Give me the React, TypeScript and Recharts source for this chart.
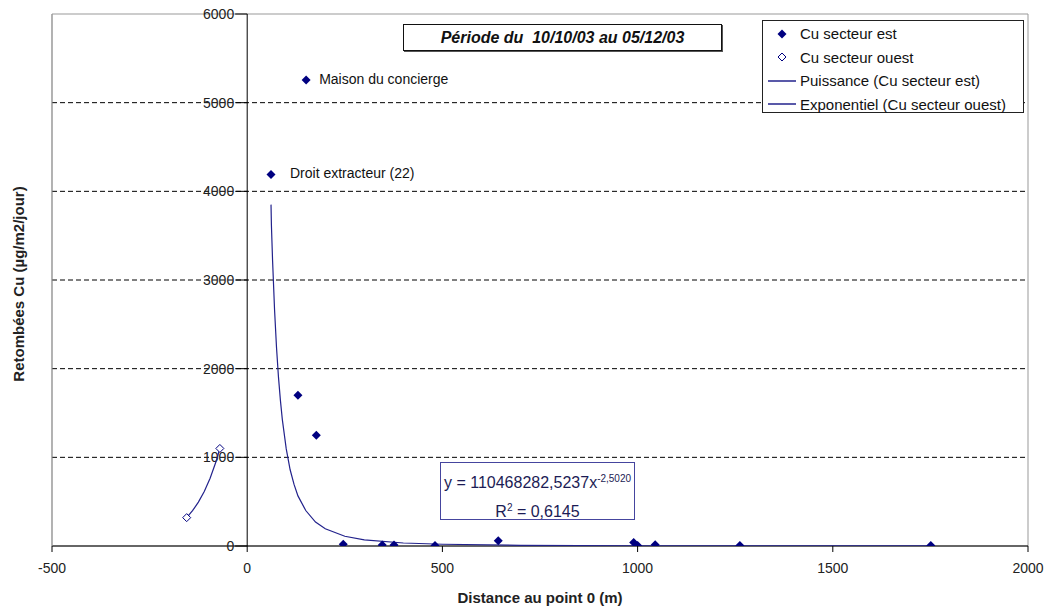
import React from 'react';
import {
  ScatterChart,
  Scatter,
  XAxis,
  YAxis,
  ZAxis,
  ReferenceLine,
  ReferenceArea,
  ReferenceDot,
  Legend,
  LabelList,
} from 'recharts';

const FONT = '"Liberation Sans", Arial, sans-serif';
const NAVY = '#000080';
const TREND = '#22228c';

const xTicks = [-500, 0, 500, 1000, 1500, 2000];
const yTicks = [0, 1000, 2000, 3000, 4000, 5000, 6000];
const gridLevels = [1000, 2000, 3000, 4000, 5000];

// Cu secteur est (filled diamonds)
const cuEst = [
  { x: 61, y: 4190, note: 'Droit extracteur (22)' },
  { x: 151, y: 5255, note: 'Maison du concierge' },
  { x: 130, y: 1700 },
  { x: 177, y: 1250 },
  { x: 246, y: 20 },
  { x: 346, y: 10 },
  { x: 376, y: 10 },
  { x: 481, y: 5 },
  { x: 643, y: 60 },
  { x: 990, y: 40 },
  { x: 1000, y: 5 },
  { x: 1045, y: 15 },
  { x: 1262, y: 5 },
  { x: 1751, y: 5 },
];

// Cu secteur ouest (open diamonds)
const cuOuest = [
  { x: -155, y: 320 },
  { x: -70, y: 1100 },
];

// Puissance (Cu secteur est)
const puissance = [
  { x: 61, y: 3850 },
  { x: 62, y: 3620 },
  { x: 65, y: 3220 },
  { x: 70, y: 2670 },
  { x: 75, y: 2245 },
  { x: 80, y: 1910 },
  { x: 85, y: 1645 },
  { x: 90, y: 1425 },
  { x: 100, y: 1095 },
  { x: 110, y: 860 },
  { x: 120, y: 695 },
  { x: 130, y: 565 },
  { x: 150, y: 400 },
  { x: 175, y: 270 },
  { x: 200, y: 195 },
  { x: 250, y: 110 },
  { x: 300, y: 70 },
  { x: 400, y: 34 },
  { x: 500, y: 20 },
  { x: 700, y: 8 },
  { x: 1000, y: 3 },
  { x: 1400, y: 1.5 },
  { x: 1751, y: 1 },
];

// Exponentiel (Cu secteur ouest)
const exponentiel = [
  { x: -155, y: 320 },
  { x: -140, y: 398 },
  { x: -125, y: 495 },
  { x: -110, y: 615 },
  { x: -95, y: 765 },
  { x: -80, y: 950 },
  { x: -70, y: 1100 },
];

const noteOffset: Record<string, number> = {
  'Droit extracteur (22)': 19,
  'Maison du concierge': 13,
};

const diamondPath = (cx: number, cy: number, r: number) =>
  `M${cx},${cy - r}L${cx + r},${cy}L${cx},${cy + r}L${cx - r},${cy}Z`;

const FilledDiamond = (p: any) => <path d={diamondPath(p.cx, p.cy, 4.5)} fill={NAVY} />;
const OpenDiamond = (p: any) => (
  <path d={diamondPath(p.cx, p.cy, 4)} fill="#fff" stroke={NAVY} strokeWidth={1} />
);
const NoDot = () => <g />;

const NoteLabel = (p: any) => {
  if (!p.value) return null;
  const cx = p.x + p.width / 2;
  const cy = p.y + p.height / 2;
  return (
    <text
      x={cx + (noteOffset[p.value] ?? 12)}
      y={cy - 1}
      dominantBaseline="central"
      fontSize={14}
      fill="#111"
      fontFamily={FONT}
    >
      {p.value}
    </text>
  );
};

const YTick = ({ cx, cy, value }: any) => (
  <g>
    <line x1={cx - 12} y1={cy} x2={cx} y2={cy} stroke="#000" />
    <text
      x={cx - 13}
      y={cy}
      textAnchor="end"
      dominantBaseline="central"
      fontSize={14}
      fill="#222"
      fontFamily={FONT}
    >
      {value}
    </text>
  </g>
);

const legendItems = [
  { name: 'Cu secteur est', kind: 'filled' },
  { name: 'Cu secteur ouest', kind: 'open' },
  { name: 'Puissance (Cu secteur est)', kind: 'line' },
  { name: 'Exponentiel (Cu secteur ouest)', kind: 'line' },
];

const LegendBox = () => (
  <div
    style={{
      width: 262,
      height: 93,
      border: '1px solid #222',
      background: '#fff',
      boxSizing: 'border-box',
      paddingTop: 1,
      fontFamily: FONT,
      fontSize: 15,
      color: '#111',
    }}
  >
    {legendItems.map((it) => (
      <div key={it.name} style={{ height: 23.5, display: 'flex', alignItems: 'center' }}>
        <svg width={37} height={14} style={{ marginLeft: 4 }}>
          {it.kind === 'filled' && <path d={diamondPath(15, 7, 4.5)} fill={NAVY} />}
          {it.kind === 'open' && (
            <path d={diamondPath(15, 7, 4)} fill="#fff" stroke={NAVY} strokeWidth={1} />
          )}
          {it.kind === 'line' && <line x1={1} y1={7} x2={29} y2={7} stroke={TREND} strokeWidth={1.5} />}
        </svg>
        <span style={{ marginLeft: -4, whiteSpace: 'nowrap' }}>{it.name}</span>
      </div>
    ))}
  </div>
);

const YTitle = (props: any) => {
  const vb = props.viewBox;
  const x = vb.x + 18;
  const y = vb.y + vb.height / 2 + 4;
  return (
    <text
      x={x}
      y={y}
      transform={`rotate(-90, ${x}, ${y})`}
      textAnchor="middle"
      dominantBaseline="central"
      fontSize={15}
      fontWeight="bold"
      fill="#222"
      fontFamily={FONT}
    >
      Retombées Cu (µg/m2/jour)
    </text>
  );
};

export default function App() {
  return (
    <div
      style={{
        position: 'absolute',
        left: 0,
        top: 0,
        width: 1053,
        height: 608,
        background: '#fff',
        fontFamily: FONT,
      }}
    >
      <ScatterChart width={1053} height={608} margin={{ top: 14, right: 25, bottom: 5, left: 0 }}>
        <XAxis
          type="number"
          dataKey="x"
          domain={[-500, 2000]}
          ticks={xTicks}
          allowDataOverflow
          axisLine={{ stroke: '#000' }}
          tickLine={{ stroke: '#000' }}
          tickSize={6}
          tickMargin={11}
          tick={{ fill: '#222', fontSize: 14, fontFamily: FONT }}
          height={57}
          label={{
            value: 'Distance au point 0 (m)',
            position: 'insideBottom',
            offset: 0,
            fontSize: 15,
            fontWeight: 'bold',
            fill: '#222',
            fontFamily: FONT,
          }}
        />
        <YAxis
          type="number"
          dataKey="y"
          domain={[0, 6000]}
          ticks={yTicks}
          allowDataOverflow
          width={52}
          tick={false}
          tickLine={false}
          axisLine={{ stroke: '#999' }}
          label={YTitle}
        />
        <ZAxis range={[64, 64]} />
        <ReferenceArea x1={-500} x2={2000} y1={0} y2={6000} fill="none" stroke="#999" />
        {gridLevels.map((v) => (
          <ReferenceLine key={v} y={v} stroke="#000" strokeDasharray="5 3" />
        ))}
        <ReferenceLine x={0} stroke="#000" />
        {yTicks.map((v) => (
          <ReferenceDot
            key={`t${v}`}
            x={0}
            y={v}
            r={0}
            shape={(p: any) => <YTick {...p} value={v} />}
          />
        ))}
        <Legend
          layout="vertical"
          align="center"
          verticalAlign="middle"
          wrapperStyle={{ top: 20, left: 762, width: 262 }}
          content={LegendBox}
        />
        <Scatter
          name="Puissance (Cu secteur est)"
          data={puissance}
          line={{ stroke: TREND, strokeWidth: 1.2 }}
          lineType="joint"
          shape={NoDot}
          isAnimationActive={false}
        />
        <Scatter
          name="Exponentiel (Cu secteur ouest)"
          data={exponentiel}
          line={{ stroke: TREND, strokeWidth: 1.2 }}
          lineType="joint"
          shape={NoDot}
          isAnimationActive={false}
        />
        <Scatter name="Cu secteur est" data={cuEst} shape={FilledDiamond} isAnimationActive={false}>
          <LabelList dataKey="note" content={NoteLabel} />
        </Scatter>
        <Scatter name="Cu secteur ouest" data={cuOuest} shape={OpenDiamond} isAnimationActive={false} />
      </ScatterChart>

      <div
        style={{
          position: 'absolute',
          left: 403,
          top: 24,
          width: 319,
          height: 27,
          boxSizing: 'border-box',
          border: '1px solid #111',
          boxShadow: '1px 1px 0 #555',
          background: '#fff',
          textAlign: 'center',
          lineHeight: '25px',
          fontSize: 16,
          fontWeight: 'bold',
          fontStyle: 'italic',
          color: '#111',
          whiteSpace: 'pre',
        }}
      >
        {'Période du  10/10/03 au 05/12/03'}
      </div>

      <div
        style={{
          position: 'absolute',
          left: 440,
          top: 462,
          width: 195,
          height: 58,
          boxSizing: 'border-box',
          border: '1.5px solid #45459e',
          background: '#fff',
          textAlign: 'center',
          fontSize: 16,
          color: '#1c1c55',
          paddingTop: 3,
          lineHeight: '25px',
          whiteSpace: 'nowrap',
        }}
      >
        <div>
          y = 110468282,5237x<sup style={{ fontSize: 10, verticalAlign: 6 }}>-2,5020</sup>
        </div>
        <div>
          R<sup style={{ fontSize: 10, verticalAlign: 6 }}>2</sup> = 0,6145
        </div>
      </div>
    </div>
  );
}
